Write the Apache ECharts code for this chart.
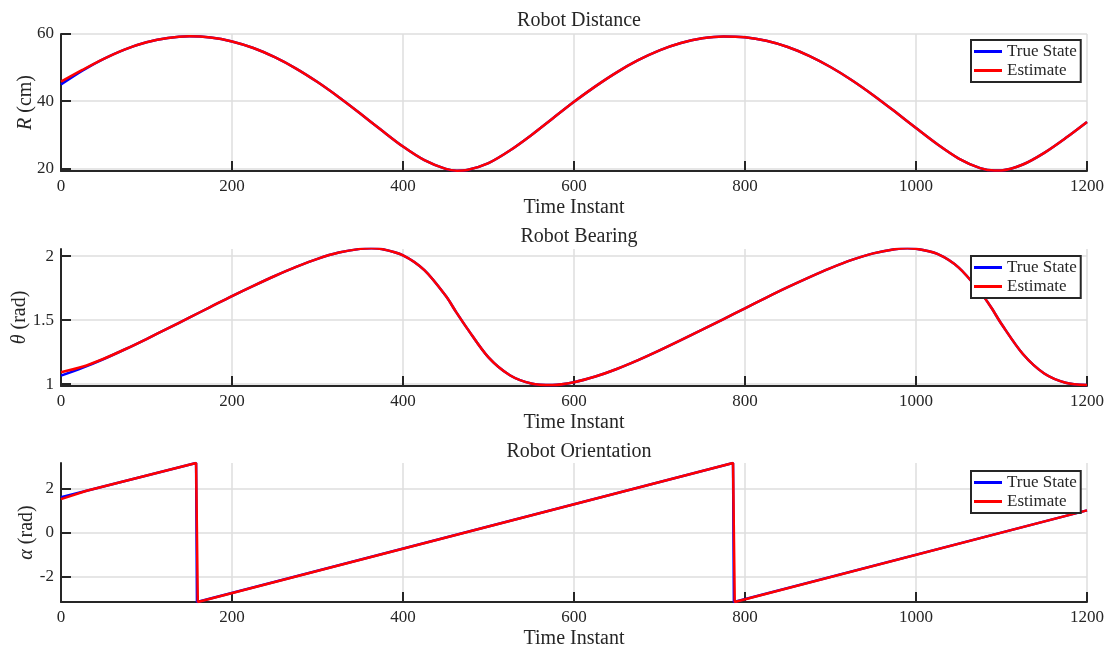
<!DOCTYPE html>
<html>
<head>
<meta charset="utf-8">
<script src="https://cdn.jsdelivr.net/npm/echarts@6/dist/echarts.min.js"></script>
<style>
html,body{margin:0;padding:0;background:#fff;}
#chart{width:1110px;height:651px;}
</style>
</head>
<body>
<div id="chart"></div>
<script>
// ---- data ----
const distTime = [0,25,50,75,100,125,150,175,200,225,250,275,300,325,350,375,400,425,450,463,475,500,525,550,575,600,625,650,675,700,725,750,775,800,825,850,875,900,925,950,975,1000,1025,1050,1075,1092,1100,1125,1150,1175,1200];
const distTrue = [44.99,49.10,52.60,55.43,57.52,58.82,59.30,58.95,57.78,55.82,53.10,49.70,45.68,41.17,36.32,31.32,26.48,22.43,19.83,19.31,19.49,21.54,25.29,29.85,34.84,39.81,44.41,48.59,52.20,55.13,57.32,58.71,59.29,59.04,57.98,56.13,53.51,50.18,46.25,41.79,36.97,31.99,27.15,22.91,20.06,19.32,19.35,21.13,24.60,29.00,33.80];
const distEst  = [45.80,49.30,52.60,55.43,57.52,58.82,59.30,58.95,57.78,55.82,53.10,49.70,45.68,41.17,36.32,31.32,26.48,22.43,19.83,19.31,19.49,21.54,25.29,29.85,34.84,39.81,44.41,48.59,52.20,55.13,57.32,58.71,59.29,59.04,57.98,56.13,53.51,50.18,46.25,41.79,36.97,31.99,27.15,22.91,20.06,19.32,19.35,21.13,24.60,29.00,33.80];

const bearTime = [0,25,50,75,100,125,150,175,200,225,250,275,300,325,350,363,375,400,425,450,462,475,500,525,550,575,600,625,650,675,700,725,750,775,800,825,850,875,900,925,950,975,990,1000,1025,1050,1075,1088,1100,1125,1150,1175,1200];
const bearTrue = [1.066,1.127,1.196,1.272,1.352,1.435,1.519,1.603,1.687,1.767,1.844,1.915,1.978,2.027,2.056,2.060,2.055,2.006,1.890,1.689,1.564,1.435,1.208,1.069,1.005,0.993,1.015,1.059,1.118,1.187,1.263,1.343,1.425,1.508,1.592,1.676,1.757,1.834,1.906,1.970,2.021,2.053,2.060,2.057,2.017,1.910,1.721,1.598,1.469,1.235,1.083,1.011,0.992];
const bearEst  = [1.092,1.135,1.198,1.272,1.352,1.435,1.519,1.603,1.687,1.767,1.844,1.915,1.978,2.027,2.056,2.060,2.055,2.006,1.890,1.689,1.564,1.435,1.208,1.069,1.005,0.993,1.015,1.059,1.118,1.187,1.263,1.343,1.425,1.508,1.592,1.676,1.757,1.834,1.906,1.970,2.021,2.053,2.060,2.057,2.017,1.910,1.721,1.598,1.469,1.235,1.083,1.011,0.992];

const orientTimeTrue = [0,30,158,159,786,787,1200];
const orientTrue     = [1.59,1.89,3.14,-3.14,3.14,-3.14,1.00];
const orientTimeEst  = [0,30,158,160,786,788,1200];
const orientEst      = [1.51,1.89,3.14,-3.14,3.14,-3.14,1.00];

const xTicks = [0,200,400,600,800,1000,1200];
const distTicks = [20,40,60];
const bearTicks = [1,1.5,2];
const orientTicks = [-2,0,2];

const panelTitles = ['Robot Distance','Robot Bearing','Robot Orientation'];
const legendNames = ['True State','Estimate'];

// ---- chart ----
const FONT = '"Liberation Serif", "Times New Roman", serif';
const INK = '#262626';
const GRIDC = '#dedede';

function zip(xs, ys){ return xs.map((x,i)=>[x, ys[i]]); }

const gridTops = [34, 249, 463];
const gridHeights = [137, 137, 139];

const grids = gridTops.map((t,i)=>({left:61, right:23, top:t, height:gridHeights[i], containLabel:false, outerBoundsMode:'none'}));

const xAxes = gridTops.map((t,i)=>({
  type:'value', gridIndex:i, min:xTicks[0], max:xTicks[xTicks.length-1], interval:200,
  position:'bottom',
  name:'Time Instant', nameLocation:'middle', nameGap:27, nameMoveOverlap:false,
  nameTextStyle:{fontFamily:FONT, fontSize:20, color:INK},
  axisLine:{show:true, onZero:false, lineStyle:{color:INK, width:2}},
  axisTick:{show:true, inside:true, length:10, lineStyle:{color:INK, width:2}},
  axisLabel:{fontFamily:FONT, fontSize:17, color:INK, margin:7, formatter:(v)=>String(v)},
  splitLine:{show:true, lineStyle:{color:GRIDC, width:1.5}}
}));

function yAxis(i, min, max, ticks, nameRich, gap){
  return {
    type:'value', gridIndex:i, min:min, max:max,
    name:nameRich, nameLocation:'middle', nameGap:gap, nameRotate:90, nameMoveOverlap:false,
    nameTextStyle:{fontFamily:FONT, fontSize:20, color:INK,
      rich:{i:{fontFamily:FONT, fontSize:20, fontStyle:'italic', color:INK},
            n:{fontFamily:FONT, fontSize:20, color:INK}}},
    axisLine:{show:true, onZero:false, lineStyle:{color:INK, width:2}},
    axisTick:{show:true, inside:true, length:10, customValues:ticks, lineStyle:{color:INK, width:2}},
    axisLabel:{fontFamily:FONT, fontSize:17, color:INK, margin:7, customValues:ticks, formatter:(v)=>String(v)},
    splitLine:{show:true, lineStyle:{color:GRIDC, width:1.5}}
  };
}

const yAxes = [
  yAxis(0, 19.2, 60, distTicks, '{i|R}{n| (cm)}', 25),
  yAxis(1, 0.985, 2.055, bearTicks, '{i|θ}{n| (rad)}', 31),
  yAxis(2, -Math.PI, Math.PI, orientTicks, '{i|α}{n| (rad)}', 24)
];

const titleCenters = [18, 234, 449];
const titles = panelTitles.map((txt,i)=>({
  text:txt, left:574, top:titleCenters[i]-12, textAlign:'center',
  textStyle:{fontFamily:FONT, fontSize:20, fontWeight:'normal', color:INK}
}));

const legendTops = [40, 256, 471];
const legends = legendTops.map(t=>({
  data:legendNames, orient:'vertical', left:971, top:t,
  icon:'rect', itemWidth:28, itemHeight:3, itemGap:2,
  padding:[3,4,3,3],
  borderColor:INK, borderWidth:2, backgroundColor:'#fff',
  textStyle:{fontFamily:FONT, fontSize:17, color:INK},
  selectedMode:false
}));

function lineSeries(name, color, i, data, smooth){
  return {
    type:'line', name:name, xAxisIndex:i, yAxisIndex:i, data:data,
    showSymbol:false, symbol:'none', smooth:smooth,
    lineStyle:{color:color, width:2.5}, itemStyle:{color:color},
    z:name==='Estimate'?3:2
  };
}

const series = [
  lineSeries('True State', '#0000ff', 0, zip(distTime, distTrue), 0.3),
  lineSeries('Estimate',   '#ff0000', 0, zip(distTime, distEst), 0.3),
  lineSeries('True State', '#0000ff', 1, zip(bearTime, bearTrue), 0.3),
  lineSeries('Estimate',   '#ff0000', 1, zip(bearTime, bearEst), 0.3),
  lineSeries('True State', '#0000ff', 2, zip(orientTimeTrue, orientTrue), false),
  lineSeries('Estimate',   '#ff0000', 2, zip(orientTimeEst, orientEst), false)
];

const chart = echarts.init(document.getElementById('chart'), null, {renderer:'canvas'});
chart.setOption({
  animation:false,
  backgroundColor:'#ffffff',
  title:titles,
  legend:legends,
  grid:grids,
  xAxis:xAxes,
  yAxis:yAxes,
  series:series
});
</script>
</body>
</html>
